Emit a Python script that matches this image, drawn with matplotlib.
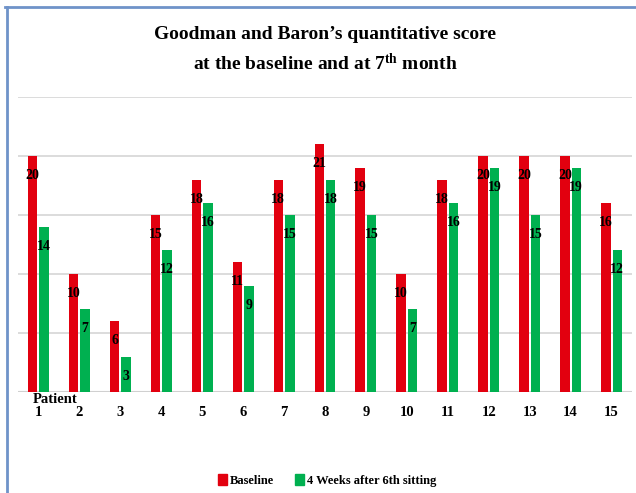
"""
Goodman and Baron's quantitative score, baseline vs after treatment.
"""

# Imports
import matplotlib
matplotlib.use("Agg")
import matplotlib.pyplot as plt
from matplotlib.lines import Line2D
from matplotlib.patches import Patch
import numpy as np


# Data
patients = [str(i) for i in range(1, 16)]
baseline = [20, 10, 6, 15, 18, 11, 18, 21, 19, 10, 18, 20, 20, 20, 16]
after_6th = [14, 7, 3, 12, 16, 9, 15, 18, 15, 7, 16, 19, 15, 19, 12]

RED = "#E2000F"
GREEN = "#00B050"
SERIF = "Liberation Serif"

plt.rcParams["font.family"] = SERIF
plt.rcParams["mathtext.fontset"] = "custom"
plt.rcParams["mathtext.rm"] = "Liberation Serif:bold"
plt.rcParams["mathtext.it"] = "Liberation Serif:bold"
plt.rcParams["mathtext.bf"] = "Liberation Serif:bold"

fig = plt.figure(figsize=(6.36, 4.93), dpi=100)
ax = fig.add_axes([0.0283, 0.2049, 0.9654, 0.5983])

x = np.arange(len(patients))
w = 0.23
ax.bar(x - 0.14, baseline, w, color=RED, zorder=3)
ax.bar(x + 0.14, after_6th, w, color=GREEN, zorder=3)

# Value labels inside the top of each bar
for xi, v in zip(x - 0.14, baseline):
    ax.text(xi, v - 1.1, str(v), ha="center", va="top", fontsize=10,
            fontweight="bold", color="black", zorder=4)
for xi, v in zip(x + 0.14, after_6th):
    ax.text(xi, v - 1.1, str(v), ha="center", va="top", fontsize=10,
            fontweight="bold", color="black", zorder=4)

ax.set_xlim(-0.5, len(patients) - 0.5)
ax.set_ylim(0, 25)
ax.set_yticks([])
for g in [5, 10, 15, 20, 25]:
    ax.axhline(g, color="#D9D9D9", lw=1.3, zorder=1)
ax.axhline(0, color="#D0D0D0", lw=1.5, zorder=2)
for s in ax.spines.values():
    s.set_visible(False)

ax.set_xticks(x)
ax.set_xticklabels(patients, fontsize=10.5, fontweight="bold")
ax.tick_params(axis="x", length=0, pad=10)
ax.text(0.4, -0.1, "Patient", ha="center", va="top", fontsize=10.5,
        fontweight="bold", transform=ax.transData)

# Title
fig.text(0.511, 0.930, "Goodman and Baron\u2019s quantitative score",
         ha="center", va="center", fontsize=14, fontweight="bold")
fig.text(0.511, 0.872, "at the baseline and at 7$^{\\mathrm{th}}$ month",
         ha="center", va="center", fontsize=14, fontweight="bold")

# Legend
handles = [Patch(color=RED, label="Baseline"),
           Patch(color=GREEN, label="4 Weeks after 6th sitting")]
fig.legend(handles=handles, loc="center", bbox_to_anchor=(0.514, 0.026),
           ncol=2, frameon=False, handlelength=0.75, handleheight=0.95,
           handletextpad=0.2, columnspacing=1.7,
           prop={"family": SERIF, "weight": "bold", "size": 9})

# Chart frame (left and top edges)
fig.add_artist(Line2D([0.011, 0.011], [0.0, 0.986], color="#6F93C9",
                      lw=2, transform=fig.transFigure))
fig.add_artist(Line2D([0.008, 1.0], [0.986, 0.986], color="#6F93C9",
                      lw=2, transform=fig.transFigure))

fig.savefig("out.png", dpi=100)
